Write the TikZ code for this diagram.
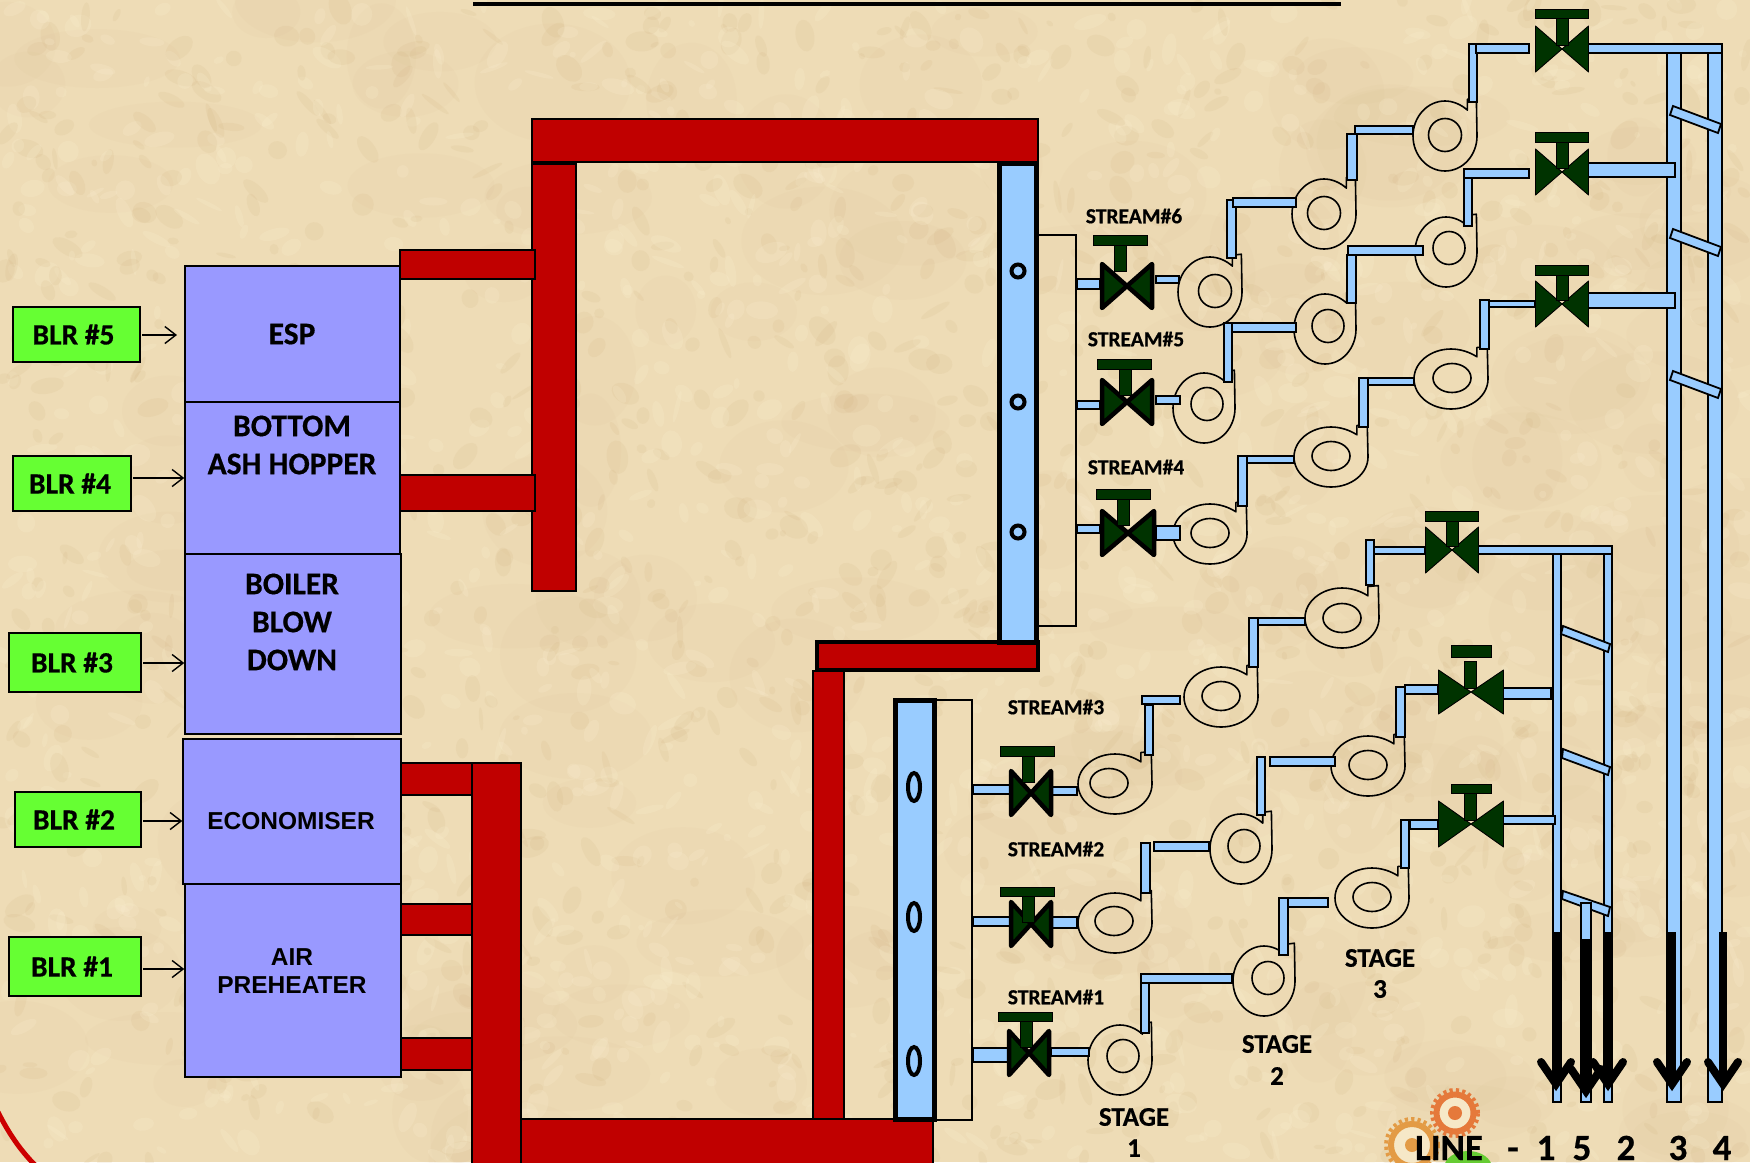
\documentclass[tikz,border=0pt]{standalone}
\usepackage{fontspec}
\setmainfont{Carlito}[BoldFeatures={FakeBold=0.5}]
\newfontfamily\arialf{Liberation Sans}
\usetikzlibrary{arrows.meta}
\definecolor{parch}{HTML}{EEDCB6}
\definecolor{parchD}{HTML}{CFAF7C}
\definecolor{parchL}{HTML}{FBF0D2}
\definecolor{redbar}{HTML}{C00000}
\definecolor{pipeblue}{HTML}{99CCFF}
\definecolor{boxblue}{HTML}{9999FF}
\definecolor{blrgreen}{HTML}{66FF33}
\definecolor{vgreen}{HTML}{003300}
\definecolor{gearA}{HTML}{E5793B}
\definecolor{gearB}{HTML}{E39B45}
\tikzset{
  redfill/.style={fill=redbar,draw=black,line width=1.5pt},
  pipeshape/.style={fill=pipeblue,draw=black,line width=1.8pt},
  unitbox/.style={draw=black,fill=boxblue,line width=1.5pt,inner sep=0pt},
  blrbox/.style={draw=black,fill=blrgreen,line width=1.5pt,inner sep=0pt,font=\fontsize{29.5}{32}\selectfont\bfseries},
  unitlbl/.style={inner sep=0pt,font=\fontsize{31.5}{34}\selectfont\bfseries,text=black},
  armlbl/.style={inner sep=0pt,font=\arialf\fontsize{24.5}{28}\selectfont\bfseries,text=black},
  streamlbl/.style={inner sep=0pt,font=\fontsize{21.5}{24}\selectfont\bfseries,text=black},
  stagelbl/.style={inner sep=0pt,font=\fontsize{27}{30}\selectfont\bfseries},
  linelbl/.style={inner sep=0pt,anchor=base,font=\fontsize{37}{40}\selectfont\bfseries},
  feed/.style={-{Straight Barb[length=11pt,width=17pt]},line width=1.4pt,draw=black},
  pumpline/.style={draw=black,line width=1.6pt},
  vpart/.style={fill=vgreen,draw=black,line width=.9pt},
}
\newcommand{\rbar}[4]{\path[redfill] (#1,#2) rectangle (#3,#4);}
\newcommand{\pipe}[4]{\path[pipeshape] (#1,#2) rectangle (#3,#4);}
\newcommand{\vtie}[5]{\path[fill=vgreen,draw=black,line width=#5pt,line join=round]
  ({#1-#3},{#2-#4}) -- (#1,#2) -- ({#1-#3},{#2+#4}) -- cycle
  ({#1+#3},{#2-#4}) -- (#1,#2) -- ({#1+#3},{#2+#4}) -- cycle;}
\newcommand{\vstem}[3]{\path[vpart] ({#1-6},#2) rectangle ({#1+6},#3);}
\newcommand{\vhandle}[4]{\path[vpart] ({#1-#4},#2) rectangle ({#1+#4},#3);}
\newcommand{\pump}[8]{%
  \begin{scope}[shift={(#1,#2)},xscale=#3,yscale=#4]
    \path[pumpline,line join=round] (.70,-.74) .. controls (.5,-.9) and (.25,-1) .. (0,-1)
      .. controls (-.5523,-1) and (-1,-.5523) .. (-1,0)
      .. controls (-1,.5523) and (-.5523,1) .. (0,1)
      .. controls (.5523,1) and (1,.5523) .. (1,0)
      -- (.98,-1.08) -- (.70,-1.05) -- cycle;
  \end{scope}
  \draw[pumpline] (#5,#6) ellipse [x radius=#7pt,y radius=#8pt];}
\newcommand{\rung}[8]{\path[pipeshape] (#1,#2) -- (#3,#4) -- (#5,#6) -- (#7,#8) -- cycle;}
\newcommand{\bigarrow}[3]{%
  \draw[black,line width=8pt] (#1,#2) -- (#1,{#3-10});
  \draw[black,line width=8pt,line cap=round,miter limit=10] ({#1-15},{#3-30}) -- (#1,{#3-8}) -- ({#1+15},{#3-30});}
\newcommand{\gearicon}[6]{%
  \draw[#6,line width=4pt,dash pattern=on 3.2pt off 3.2pt] (#1,#2) circle [radius=#3pt];
  \draw[#6,line width=6pt,fill=parchL!60!parch] (#1,#2) circle [radius=#4pt];
  \fill[#6] (#1,#2) circle [radius=#5pt];}
\begin{document}
\begin{tikzpicture}[x=1pt,y=-1pt]
\useasboundingbox (0,0) rectangle (1750,1162);
\clip (0,0) rectangle (1750,1162);
\fill[parch] (0,0) rectangle (1750,1162);
% mottled parchment
\pgfmathsetseed{4711}
\foreach \n in {1,...,160}{
  \pgfmathsetmacro{\bx}{rnd*1750}
  \pgfmathsetmacro{\by}{rnd*1162}
  \pgfmathsetmacro{\brx}{30+rnd*60}
  \pgfmathsetmacro{\bry}{20+rnd*40}
  \fill[parchD,opacity=.05] (\bx,\by) ellipse [x radius=\brx pt,y radius=\bry pt];
}
\foreach \n in {1,...,2600}{
  \pgfmathsetmacro{\bx}{rnd*1750}
  \pgfmathsetmacro{\by}{rnd*1162}
  \pgfmathsetmacro{\brx}{3+rnd*14}
  \pgfmathsetmacro{\bry}{2+rnd*9}
  \pgfmathsetmacro{\brot}{rnd*180}
  \pgfmathsetmacro{\bpick}{rnd}
  \ifdim\bpick pt<.45pt
    \fill[parchD,opacity=.13,rotate around={\brot:(\bx,\by)}] (\bx,\by) ellipse [x radius=\brx pt,y radius=\bry pt];
  \else
    \fill[parchL,opacity=.20,rotate around={\brot:(\bx,\by)}] (\bx,\by) ellipse [x radius=\brx pt,y radius=\bry pt];
  \fi
}
% top rule and corner arc
\coordinate (ruleL) at (473,4); \coordinate (ruleR) at (1341,4);
\draw[black,line width=4.5pt] (ruleL) -- (ruleR);
\draw[red!80!black,line width=5pt] (-2,1112) .. controls (8,1132) and (20,1150) .. (35,1165);
% gears
\gearicon{1455}{1113}{23}{18.5}{7}{gearA}
\gearicon{1412}{1145}{26}{21}{7}{gearB}
\fill[green!50!gray!80!yellow] (1468,1168) ellipse [x radius=24pt,y radius=17pt];
% red ducts
\rbar{532}{119}{1038}{162}
\rbar{532}{164}{576}{591}
\rbar{400}{250}{535}{279}
\rbar{400}{475}{535}{511}
\rbar{813}{671}{844}{1121}
\rbar{520}{1119}{933}{1166}
\rbar{472}{763}{521}{1166}
\rbar{400}{763}{472}{795}
\rbar{400}{904}{472}{935}
\rbar{400}{1038}{472}{1070}
\path[fill=redbar,draw=black,line width=4pt] (817,642) rectangle (1038,670);
% columns
\draw[black,line width=1.5pt] (1038,235) rectangle (1076,626);
\draw[black,line width=1.5pt] (934,700) rectangle (972,1120);
\path[fill=pipeblue,draw=black,line width=5pt] (999,163) rectangle (1036,642);
\path[fill=pipeblue,draw=black,line width=5pt] (895,700) rectangle (934,1119);
\foreach \yy in {271,402,532}{\draw[black,line width=4pt] (1018,\yy) circle [radius=6.5pt];}
\foreach \yy in {787,917,1061}{\draw[black,line width=4pt] (914,\yy) ellipse [x radius=6pt,y radius=14pt];}
% boxes
\node[unitbox,minimum width=215pt,minimum height=136pt] (esp) at (292.5,334) {};
\node[unitbox,minimum width=215pt,minimum height=152pt] (ash) at (292.5,478) {};
\node[unitbox,minimum width=216pt,minimum height=180pt] (blow) at (293,644) {};
\node[unitbox,minimum width=218pt,minimum height=145pt] (eco) at (292,811.5) {};
\node[unitbox,minimum width=216pt,minimum height=193pt] (air) at (293,980.5) {};
\node[unitlbl] (tEsp) at (292,334) {ESP};
\node[unitlbl] (tBot) at (292,426) {BOTTOM};
\node[unitlbl] (tAsh) at (292,464) {ASH HOPPER};
\node[unitlbl] (tBoi) at (292,584) {BOILER};
\node[unitlbl] (tBlo) at (292,622) {BLOW};
\node[unitlbl] (tDow) at (292,660) {DOWN};
\node[armlbl] (tEco) at (291,821) {ECONOMISER};
\node[armlbl] (tAir) at (292,957) {AIR};
\node[armlbl] (tPre) at (292,985) {PREHEATER};
% boiler tags
\node[blrbox,minimum width=127pt,minimum height=55pt] (b5) at (76.5,334.5) {\makebox[0pt]{\hspace{-6pt}BLR \#5}};
\node[blrbox,minimum width=118pt,minimum height=55pt] (b4) at (72,483.5) {\makebox[0pt]{\hspace{-4pt}BLR \#4}};
\node[blrbox,minimum width=132pt,minimum height=59pt] (b3) at (75,662.5) {\makebox[0pt]{\hspace{-6pt}BLR \#3}};
\node[blrbox,minimum width=126pt,minimum height=55pt] (b2) at (78,819.5) {\makebox[0pt]{\hspace{-8pt}BLR \#2}};
\node[blrbox,minimum width=132pt,minimum height=59pt] (b1) at (75,966.5) {\makebox[0pt]{\hspace{-6pt}BLR \#1}};
\coordinate (s5) at (142,335); \coordinate (s4) at (133,478); \coordinate (s3) at (143,663);
\coordinate (s2) at (143,821); \coordinate (s1) at (143,969);
\coordinate (e5) at (177,335);
\draw[feed] (s5) -- (e5);
\draw[feed] (s4) -- (s4 -| ash.west);
\draw[feed] (s3) -- (s3 -| blow.west);
\draw[feed] (s2) -- (s2 -| eco.west);
\draw[feed] (s1) -- (s1 -| air.west);
% pumps: upper three streams
\pump{1210}{292}{32}{35}{1215}{291}{16.5}{16.5}
\pump{1324}{214}{32}{35}{1324}{213}{16.5}{16.5}
\pump{1445}{136}{32}{35}{1445}{135}{16.5}{16.5}
\pump{1204}{408}{31}{35}{1207}{404}{16}{16.5}
\pump{1325}{329}{31}{35}{1328}{326}{16}{16.5}
\pump{1446}{252}{31}{35}{1449}{248}{16}{16.5}
\pump{1210}{534}{37}{30}{1210}{533}{19}{14.5}
\pump{1331}{457}{37}{30}{1331}{456}{19}{14.5}
\pump{1451}{379}{37}{30}{1452}{378}{19}{14.5}
% pumps: lower three streams
\pump{1115}{784}{37}{30}{1109}{783}{19}{14.5}
\pump{1221}{697}{37}{30}{1221}{696}{19}{14.5}
\pump{1342}{618}{37}{30}{1342}{618}{19}{14.5}
\pump{1115}{923}{37}{30}{1114}{921}{19}{14.5}
\pump{1241}{849}{31}{35}{1244}{846}{16}{16.5}
\pump{1368}{766}{37}{30}{1368}{765}{19}{14.5}
\pump{1120}{1060}{32}{35}{1123}{1056}{16}{16.5}
\pump{1264}{981}{31}{35}{1268}{978}{16}{16.5}
\pump{1372}{898}{37}{30}{1372}{897}{19}{14.5}
% header pipes on the right
\pipe{1667}{53}{1681}{1102}
\pipe{1708}{53}{1722}{1102}
\pipe{1588}{44}{1722}{53}
\pipe{1588}{163}{1675}{177}
\pipe{1588}{293}{1675}{308}
\rung{1673}{106}{1721}{124}{1718}{133}{1670}{115}
\rung{1673}{229}{1721}{247}{1718}{256}{1670}{238}
\rung{1673}{371}{1721}{389}{1718}{398}{1670}{380}
\pipe{1553}{554}{1561}{1102}
\pipe{1604}{554}{1612}{1102}
\pipe{1478}{546}{1612}{554}
\pipe{1503}{688}{1551}{699}
\pipe{1503}{816}{1555}{824}
\rung{1563}{626}{1610}{644}{1608}{652}{1561}{634}
\rung{1563}{749}{1610}{767}{1608}{775}{1562}{758}
\rung{1563}{891}{1610}{907}{1608}{916}{1562}{899}
\pipe{1581}{903}{1591}{1102}
% stream 6
\pipe{1077}{279}{1100}{289} \pipe{1156}{276}{1179}{283}
\pipe{1227}{200}{1236}{258} \pipe{1233}{198}{1296}{207}
\pipe{1347}{134}{1357}{180} \pipe{1355}{126}{1413}{134}
\pipe{1469}{44}{1477}{102} \pipe{1476}{44}{1529}{53}
% stream 5
\pipe{1077}{401}{1100}{409} \pipe{1156}{396}{1180}{404}
\pipe{1224}{323}{1232}{382} \pipe{1232}{323}{1296}{332}
\pipe{1347}{255}{1356}{303} \pipe{1348}{246}{1423}{255}
\pipe{1464}{178}{1472}{226} \pipe{1464}{169}{1529}{178}
% stream 4
\pipe{1077}{525}{1100}{533} \pipe{1156}{526}{1180}{540}
\pipe{1238}{456}{1247}{506} \pipe{1247}{456}{1294}{463}
\pipe{1359}{378}{1368}{427} \pipe{1368}{378}{1414}{385}
\pipe{1480}{300}{1489}{349} \pipe{1489}{301}{1535}{307}
% stream 3
\pipe{973}{785}{1010}{794} \pipe{1052}{787}{1077}{795}
\pipe{1145}{705}{1153}{755} \pipe{1142}{696}{1180}{704}
\pipe{1249}{618}{1258}{667} \pipe{1258}{618}{1305}{625}
\pipe{1366}{540}{1374}{585} \pipe{1374}{547}{1425}{554}
% stream 2
\pipe{973}{917}{1010}{926} \pipe{1052}{917}{1077}{928}
\pipe{1141}{843}{1150}{893} \pipe{1154}{842}{1209}{851}
\pipe{1257}{757}{1265}{815} \pipe{1270}{757}{1335}{766}
\pipe{1396}{687}{1405}{737} \pipe{1405}{685}{1438}{694}
% stream 1
\pipe{973}{1048}{1008}{1062} \pipe{1051}{1048}{1089}{1056}
\pipe{1141}{983}{1149}{1033} \pipe{1141}{974}{1232}{983}
\pipe{1279}{898}{1288}{955} \pipe{1288}{898}{1328}{907}
\pipe{1401}{820}{1409}{868} \pipe{1410}{820}{1438}{829}
% valves, thick bodies
\vtie{1127}{286}{25}{22}{4.5}  \vstem{1120}{245}{271} \vhandle{1120}{235}{245}{27}
\vtie{1127}{402}{25}{22}{4.5}  \vstem{1125}{369}{395} \vhandle{1124}{359}{369}{27}
\vtie{1128}{533}{26}{22}{4.5}  \vstem{1123}{499}{525} \vhandle{1123}{489}{499}{27}
\vtie{1031}{793}{20}{22}{4.5}  \vstem{1028}{756}{782} \vhandle{1027}{746}{756}{27}
\vtie{1031}{924}{20}{22}{4.5}  \vstem{1028}{896}{922} \vhandle{1027}{887}{896}{27}
\vtie{1029}{1053}{20}{22}{4.5} \vstem{1026}{1021}{1047} \vhandle{1025}{1012}{1021}{27}
% valves, thin bodies
\vtie{1562}{49}{26.5}{23}{.9}  \vstem{1562}{18}{45} \vhandle{1562}{9}{18}{26.5}
\vtie{1562}{172}{26.5}{23}{.9} \vstem{1562}{142}{168} \vhandle{1562}{132}{142}{26.5}
\vtie{1562}{304}{26.5}{23}{.9} \vstem{1562}{275}{300} \vhandle{1562}{265}{275}{26.5}
\vtie{1452}{550}{26.5}{23}{.9} \vstem{1452}{521}{546} \vhandle{1452}{511}{521}{26.5}
\vtie{1471}{692}{32.5}{22}{.9} \vstem{1470}{661}{688} \vhandle{1471}{645}{657}{20}
\vtie{1471}{824}{32.5}{23}{.9} \vstem{1470}{793}{820} \vhandle{1471}{784}{793}{20}
% big arrows
\bigarrow{1556}{932}{1092}
\bigarrow{1586}{939}{1099}
\bigarrow{1608}{932}{1092}
\bigarrow{1672}{932}{1092}
\bigarrow{1723}{932}{1092}
% labels
\node[streamlbl] (st6) at (1134,216) {STREAM\#6};
\node[streamlbl] (st5) at (1136,339) {STREAM\#5};
\node[streamlbl] (st4) at (1136,467) {STREAM\#4};
\node[streamlbl] (st3) at (1056,707) {STREAM\#3};
\node[streamlbl] (st2) at (1056,849) {STREAM\#2};
\node[streamlbl] (st1) at (1056,997) {STREAM\#1};
\node[stagelbl] (sa1) at (1134,1117) {STAGE};
\node[stagelbl] (sb1) at (1134,1148) {1};
\node[stagelbl] (sa2) at (1277,1044) {STAGE};
\node[stagelbl] (sb2) at (1277,1076) {2};
\node[stagelbl] (sa3) at (1380,958) {STAGE};
\node[stagelbl] (sb3) at (1380,989) {3};
\node[linelbl] (l0) at (1449,1160) {LINE};
\node[linelbl] (l1) at (1513,1160) {-};
\node[linelbl] (l2) at (1546,1160) {1};
\node[linelbl] (l3) at (1582,1160) {5};
\node[linelbl] (l4) at (1626,1160) {2};
\node[linelbl] (l5) at (1678,1160) {3};
\node[linelbl] (l6) at (1722,1160) {4};
\end{tikzpicture}
\end{document}
